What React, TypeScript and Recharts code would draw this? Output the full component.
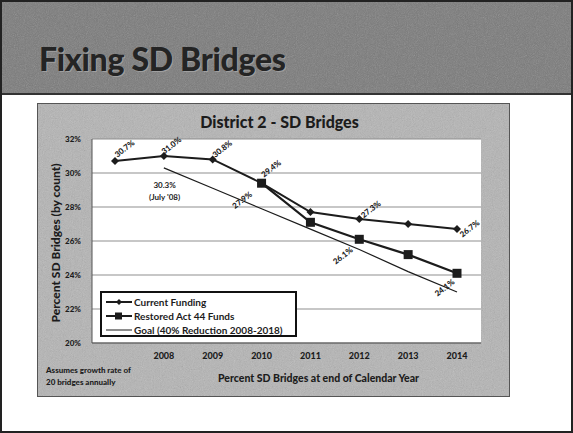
import React from 'react';
import { LineChart, Line, XAxis, YAxis, CartesianGrid } from 'recharts';

const years = ['', '2008', '2009', '2010', '2011', '2012', '2013', '2014'];
const currentFunding = [30.7, 31.0, 30.8, 29.4, 27.7, 27.3, 27.0, 26.7];
const restoredAct44 = [null, null, null, 29.4, 27.1, 26.1, 25.2, 24.1];
const goalLine = [null, 30.3, 29.1, 27.9, 26.7, 25.5, 24.2, 23.0];
const yTicks = [20, 22, 24, 26, 28, 30, 32];

const currentLabelIdx = [0, 1, 2, 3, 5, 7];
const restoredLabelIdx = [5, 7];
const goalLabelIdx = [3];

const chartData = years.map((year, i) => ({
    year,
    current: currentFunding[i],
    restored: restoredAct44[i],
    goal: goalLine[i],
}));

const FONT = 'Lato, "Open Sans", sans-serif';
const INK = '#1c1c1c';

// scanned-paper grain laid over the grey panels
const Grain = ({ id, opacity }: { id: string; opacity: number }) => (
    <svg width="100%" height="100%" style={{ position: 'absolute', left: 0, top: 0 }}>
        <filter id={id}>
            <feTurbulence type="fractalNoise" baseFrequency="1.1" numOctaves={2} seed={3} />
            <feColorMatrix type="saturate" values="0" />
        </filter>
        <rect width="100%" height="100%" filter={`url(#${id})`} opacity={opacity} />
    </svg>
);

// label offsets from the point, per series
const offsets: Record<string, Record<number, [number, number]>> = {
    current: { 0: [10, -12], 1: [8, -10], 2: [10, -10], 3: [10, -14], 5: [12, -9], 7: [13, 0] },
    restored: { 5: [-16, 17], 7: [-12, 15] },
    goal: { 3: [-19, -8] },
};

const makeLabel = (series: string, idx: number[]) => (props: any) => {
    const { x, y, index, value } = props;
    if (!idx.includes(index) || value == null) return <g key={`${series}-l${index}`} />;
    const [dx, dy] = offsets[series][index];
    return (
        <text
            key={`${series}-l${index}`}
            x={x + dx}
            y={y + dy}
            textAnchor="middle"
            dominantBaseline="middle"
            transform={`rotate(-38 ${x + dx} ${y + dy})`}
            fontSize={8}
            fontWeight={900}
            fill={INK}
            stroke="none"
            fontFamily={FONT}
        >
            {`${Number(value).toFixed(1)}%`}
        </text>
    );
};

const DiamondDot = (props: any) => {
    const { cx, cy, index } = props;
    if (cx == null || cy == null) return <g key={`dd${index}`} />;
    return <path key={`dd${index}`} d={`M${cx},${cy - 4}L${cx + 4},${cy}L${cx},${cy + 4}L${cx - 4},${cy}Z`} fill={INK} />;
};

const SquareDot = (props: any) => {
    const { cx, cy, index } = props;
    if (cx == null || cy == null) return <g key={`sd${index}`} />;
    return <rect key={`sd${index}`} x={cx - 4.5} y={cy - 4.5} width={9} height={9} fill={INK} />;
};

const LegendRow = ({ kind, text }: { kind: string; text: string }) => (
    <div style={{ display: 'flex', alignItems: 'center', height: 14 }}>
        <svg width={26} height={10} style={{ marginRight: 2 }}>
            <line x1={0} y1={5} x2={26} y2={5} stroke={INK} strokeWidth={kind === 'goal' ? 1 : 2} />
            {kind === 'current' && <path d="M13,2L16,5L13,8L10,5Z" fill={INK} />}
            {kind === 'restored' && <rect x={9} y={1.5} width={7} height={7} fill={INK} />}
        </svg>
        <span>{text}</span>
    </div>
);

export default function App() {
    return (
        <div
            style={{
                position: 'absolute', left: 0, top: 0, width: 573, height: 433,
                boxSizing: 'border-box', border: '2px solid #222', background: '#fff',
                fontFamily: FONT, overflow: 'hidden',
            }}
        >
            {/* title band */}
            <div
                style={{
                    position: 'absolute', left: 0, top: 0, width: '100%', height: 91,
                    backgroundColor: '#7a7a7a', borderBottom: '2px solid #333',
                }}
            >
                <Grain id="g1" opacity={0.3} />
                <div
                    style={{
                        position: 'absolute', left: 37, top: 37, fontSize: 32, fontWeight: 900,
                        color: '#242424', textShadow: '1px 1px 0 #a0a0a0', letterSpacing: -0.3,
                    }}
                >
                    Fixing SD Bridges
                </div>
            </div>

            {/* chart panel */}
            <div
                style={{
                    position: 'absolute', left: 35, top: 101, width: 473, height: 294,
                    boxSizing: 'border-box', border: '1px solid #555',
                    backgroundColor: '#b4b4b4',
                }}
            >
                <Grain id="g2" opacity={0.35} />
                <div
                    style={{
                        position: 'absolute', left: 0, width: '100%', top: 8, textAlign: 'center',
                        fontSize: 16, fontWeight: 900, color: INK, paddingLeft: 12, boxSizing: 'border-box',
                    }}
                >
                    District 2 - SD Bridges
                </div>

                <LineChart
                    width={471}
                    height={292}
                    data={chartData}
                    margin={{ top: 35, right: 28, bottom: 23, left: 0 }}
                    style={{ position: 'absolute', left: 0, top: 0 }}
                >
                    <CartesianGrid vertical={false} stroke="#8f8f8f" strokeWidth={1} fill="#ffffff" />
                    <XAxis
                        dataKey="year"
                        height={30}
                        padding={{ left: 23, right: 24 }}
                        axisLine={{ stroke: '#555', strokeWidth: 1 }}
                        tickLine={false}
                        tickMargin={4}
                        interval={0}
                        tick={{ fill: INK, fontSize: 9, fontWeight: 900, fontFamily: FONT }}
                    />
                    <YAxis
                        width={54}
                        domain={[20, 32]}
                        ticks={yTicks}
                        axisLine={{ stroke: '#555', strokeWidth: 1 }}
                        tickLine={false}
                        tickMargin={5}
                        tickFormatter={(v) => `${v}%`}
                        tick={{ fill: INK, fontSize: 8, fontWeight: 900, fontFamily: FONT }}
                    />
                    <Line
                        dataKey="goal"
                        stroke={INK}
                        strokeWidth={1.2}
                        dot={false}
                        isAnimationActive={false}
                        label={makeLabel('goal', goalLabelIdx)}
                    />
                    <Line
                        dataKey="restored"
                        stroke={INK}
                        strokeWidth={2.2}
                        dot={SquareDot}
                        isAnimationActive={false}
                        label={makeLabel('restored', restoredLabelIdx)}
                    />
                    <Line
                        dataKey="current"
                        stroke={INK}
                        strokeWidth={2}
                        dot={DiamondDot}
                        isAnimationActive={false}
                        label={makeLabel('current', currentLabelIdx)}
                    />
                </LineChart>

                {/* goal start note */}
                <div
                    style={{
                        position: 'absolute', left: 111, top: 75, fontSize: 8, fontWeight: 700,
                        color: INK, textAlign: 'center', lineHeight: '12px',
                    }}
                >
                    30.3%
                    <br />
                    (July '08)
                </div>

                {/* y axis title */}
                <div
                    style={{
                        position: 'absolute', left: 17, top: 139, width: 0, height: 0,
                    }}
                >
                    <div
                        style={{
                            position: 'absolute', transform: 'translate(-50%, -50%) rotate(-90deg)',
                            whiteSpace: 'nowrap', fontSize: 12, fontWeight: 900, color: INK,
                        }}
                    >
                        Percent SD Bridges (by count)
                    </div>
                </div>

                {/* legend */}
                <div
                    style={{
                        position: 'absolute', left: 62, top: 187, width: 197, height: 46,
                        boxSizing: 'border-box', border: '2px solid #111', background: '#fff',
                        padding: '2px 0 0 4px', fontSize: 10, fontWeight: 700, color: INK,
                    }}
                >
                    <LegendRow kind="current" text="Current Funding" />
                    <LegendRow kind="restored" text="Restored Act 44 Funds" />
                    <LegendRow kind="goal" text="Goal (40% Reduction 2008-2018)" />
                </div>

                {/* footnote */}
                <div
                    style={{
                        position: 'absolute', left: 8, top: 260, fontSize: 8, fontWeight: 900,
                        color: INK, lineHeight: '12px',
                    }}
                >
                    Assumes growth rate of
                    <br />
                    20 bridges annually
                </div>

                {/* x axis title */}
                <div
                    style={{
                        position: 'absolute', left: 180, top: 268, fontSize: 10.5, fontWeight: 900,
                        color: INK, whiteSpace: 'nowrap',
                    }}
                >
                    Percent SD Bridges at end of Calendar Year
                </div>
            </div>
        </div>
    );
}
